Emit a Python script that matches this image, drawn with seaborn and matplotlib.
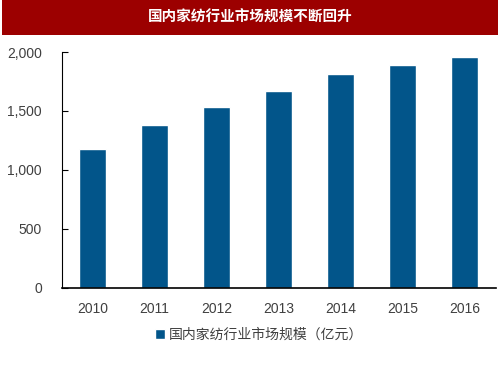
import matplotlib
matplotlib.use("Agg")
import matplotlib.pyplot as plt
import seaborn as sns
import pandas as pd
from matplotlib.patches import Rectangle
from matplotlib.ticker import FuncFormatter

years = ["2010", "2011", "2012", "2013", "2014", "2015", "2016"]
values = [1180, 1385, 1535, 1672, 1810, 1888, 1955]
series_name = "国内家纺行业市场规模（亿元）"
title = "国内家纺行业市场规模不断回升"

sns.set_theme(style="white")
plt.rcParams['font.family'] = ['Liberation Sans', 'Noto Sans CJK SC', 'DejaVu Sans']

df = pd.DataFrame({"year": years, "value": values, "series": series_name})

fig = plt.figure(figsize=(5, 3.75), dpi=100)
ax = fig.add_axes([0.123, 0.233, 0.868, 0.628])
sns.barplot(data=df, x="year", y="value", hue="series", palette=["#02558A"],
            width=0.43, ax=ax, saturation=1, legend=True)
ax.set_xlim(-0.5, 6.5)
ax.set_ylim(0, 2000)
ax.set_yticks([0, 500, 1000, 1500, 2000])
ax.yaxis.set_major_formatter(FuncFormatter(lambda v, p: f"{int(v):,}"))
ax.set_xlabel("")
ax.set_ylabel("")
for s in ["top", "right"]:
    ax.spines[s].set_visible(False)
ax.spines["left"].set_color("#000000")
ax.spines["left"].set_linewidth(0.8)
ax.spines["bottom"].set_color("#000000")
ax.spines["bottom"].set_linewidth(1.2)
ax.tick_params(axis="y", direction="in", length=4, width=0.8, color="black",
               labelsize=10, labelcolor="#404040", pad=14, left=True)
ax.tick_params(axis="x", length=0, labelsize=10, labelcolor="#404040", pad=10)

leg = ax.legend(loc="center", bbox_to_anchor=(0.455, -0.2), frameon=False,
                handlelength=0.7, handleheight=0.7, handletextpad=0.3,
                prop={'family': ['Noto Sans CJK SC', 'DejaVu Sans'], 'size': 10})
for t in leg.get_texts():
    t.set_color("#404040")

fig.patches.append(Rectangle((0.004, 1 - 35/375), 0.992, 35/375, transform=fig.transFigure,
                             facecolor="#9C0000", edgecolor="none", zorder=0))
fig.text(0.5, 1 - 17/375, title, ha="center", va="center", color="white",
         fontsize=10.5, fontweight="bold", family=['Noto Sans CJK SC', 'DejaVu Sans'])

fig.savefig("out.png", dpi=100)
